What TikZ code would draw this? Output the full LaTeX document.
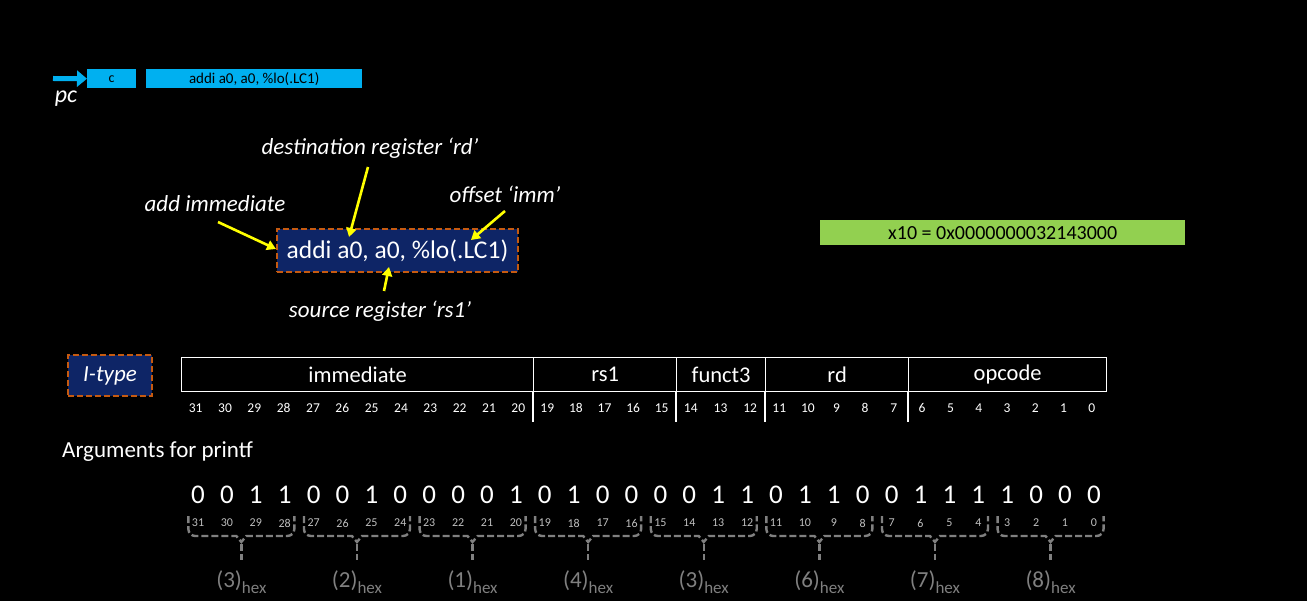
\documentclass[tikz,border=0pt]{standalone}
\usepackage{fontspec}
\setmainfont{Carlito}
\usetikzlibrary{arrows.meta}
\definecolor{cyanb}{HTML}{00B0F0}
\definecolor{navy}{HTML}{0E2566}
\definecolor{orng}{HTML}{C55A11}
\definecolor{grn}{HTML}{92D050}
\definecolor{yel}{HTML}{FFFF00}
\definecolor{brkgrey}{HTML}{808080}
\definecolor{lgrey}{HTML}{BFBFBF}
\newcommand{\fs}[1]{\fontsize{#1}{#1}\selectfont}
\begin{document}
\begin{tikzpicture}[x=1pt,y=-1pt,
  cyanbox/.style={fill=cyanb, text=black, inner sep=0pt, anchor=north west},
  asmbox/.style={fill=navy, draw=orng, line width=2.5pt, dash pattern=on 6pt off 3pt, text=white, inner sep=0pt},
  greenbox/.style={fill=grn, text=black, inner sep=0pt, anchor=north west, font=\fs{20}},
  fieldbox/.style={draw=white, line width=1.3pt, text=white, inner sep=0pt, anchor=north west, minimum height=34pt, font=\fs{22.5}},
  bitnum/.style={text=white, inner sep=0pt, font=\fs{13.5}},
  digit/.style={text=white, inner sep=0pt, font=\fs{27}},
  smallnum/.style={text=lgrey, inner sep=0pt, font=\fs{12}},
  lbl/.style={text=white, inner sep=0pt, font=\fs{23}\itshape},
  yarrow/.style={draw=yel, line width=2.6pt, -{Triangle[length=9pt,width=10pt]}},
  pcarrow/.style={draw=cyanb, line width=5pt, -{Triangle[length=10pt,width=16pt]}},
  brk/.style={draw=brkgrey, line width=2.4pt, dash pattern=on 7pt off 3pt},
  hexlbl/.style={text=brkgrey, inner sep=0pt, font=\fs{23}}
]
\fill[black] (0,0) rectangle (1307,601);
\useasboundingbox (0,0) rectangle (1307,601);

% program counter strip
\node[cyanbox, minimum width=49pt, minimum height=19pt, font=\fs{14}] (cbox) at (87,69) {c};
\node[cyanbox, minimum width=216pt, minimum height=19pt, font=\fs{15}] (instbox) at (146,69) {addi a0, a0, \%lo(.LC1)};
\coordinate (pcstart) at (53,78.5);
\draw[pcarrow] (pcstart) -- (cbox.west);
\node[lbl, font=\fs{24}\itshape] (pc) at (66,99) {pc};

% instruction with annotations
\node[asmbox, minimum width=241pt, minimum height=43pt, font=\fs{25.5}] (asm) at (397.5,250.5) {addi a0, a0, \%lo(.LC1)};
\node[lbl] (dest) at (370,148) {destination register ‘rd’};
\node[lbl] (addimm) at (215,204) {add immediate};
\node[lbl] (offs) at (505,194) {offset ‘imm’};
\node[lbl] (src) at (380,311) {source register ‘rs1’};
\coordinate (destA) at (368,167);
\coordinate (destB) at (349,237);
\coordinate (addA) at (218,222);
\coordinate (addB) at (276,249);
\coordinate (offA) at (505,211);
\coordinate (offB) at (471,240);
\coordinate (srcA) at (384,291);
\coordinate (srcB) at (389,267);
\draw[yarrow] (destA) -- (destB);
\draw[yarrow] (addA) -- (addB);
\draw[yarrow] (offA) -- (offB);
\draw[yarrow] (srcA) -- (srcB);

% register value
\node[greenbox, minimum width=365pt, minimum height=25pt] (x10) at (820,220) {x10 = 0x0000000032143000};

% I-type format
\node[asmbox, minimum width=84pt, minimum height=41pt, font=\fs{23}\itshape] (itype) at (110,375.5) {I-type};
\node[fieldbox, minimum width=352pt] (fimm) at (181,357) {immediate};
\node[fieldbox, minimum width=143pt] (frs) at (533,357) {rs1};
\node[fieldbox, minimum width=89pt] (ffn) at (676,357) {funct3};
\node[fieldbox, minimum width=143pt] (frd) at (765,357) {rd};
\node[fieldbox, minimum width=198pt] (fop) at (908,357) {opcode};
\foreach \fld in {frs,ffn,frd,fop} {
  \draw[white, line width=1.3pt] (\fld.south west) -- ++(0,30);
}
\foreach \fx/\fw/\fhi/\fn in {181/352/31/12, 533/143/19/5, 676/89/14/3, 765/143/11/5, 908/198/6/7} {
  \foreach \kk in {1,...,\fn} {
    \pgfmathsetmacro\xx{\fx+\fw/\fn*(\kk-0.5)}
    \pgfmathtruncatemacro\bnum{\fhi-\kk+1}
    \node[bitnum] (bn\bnum) at (\xx,408) {\bnum};
  }
}

\node[text=white, inner sep=0pt, anchor=west, font=\fs{23}] (args) at (62,452) {Arguments for printf};

% binary value
\foreach \dv [count=\i from 0] in {0,0,1,1,0,0,1,0,0,0,0,1,0,1,0,0,0,0,1,1,0,1,1,0,0,1,1,1,1,0,0,0} {
  \pgfmathsetmacro\xx{198+28.9*\i}
  \pgfmathtruncatemacro\bnum{31-\i}
  \node[digit] (d\i) at (\xx,495) {\dv};
  \node[smallnum] (s\i) at (\xx,523) {\bnum};
}
\foreach \hv [count=\g from 0] in {3,2,1,4,3,6,7,8} {
  \pgfmathsetmacro\gc{198+28.9*(4*\g+1.5)}
  \coordinate (bl\g) at (\gc-53,516);
  \coordinate (br\g) at (\gc+53,516);
  \coordinate (bt\g) at (\gc,544);
  \coordinate (bb\g) at (\gc,560);
  \draw[brk] (bl\g) -- ++(0,13) to[out=-90,in=180] ++(7,7) -- (\gc-5,536) -- (\gc,542) -- (\gc+5,536) -- (\gc+46,536) to[out=0,in=-90] (\gc+53,529) -- (br\g);
  \draw[brk] (bt\g) -- (bb\g);
  \node[hexlbl] (h\g) at (\gc,582) {(\hv)\raisebox{-6pt}{\fs{17}hex}};
}
\end{tikzpicture}
\end{document}
